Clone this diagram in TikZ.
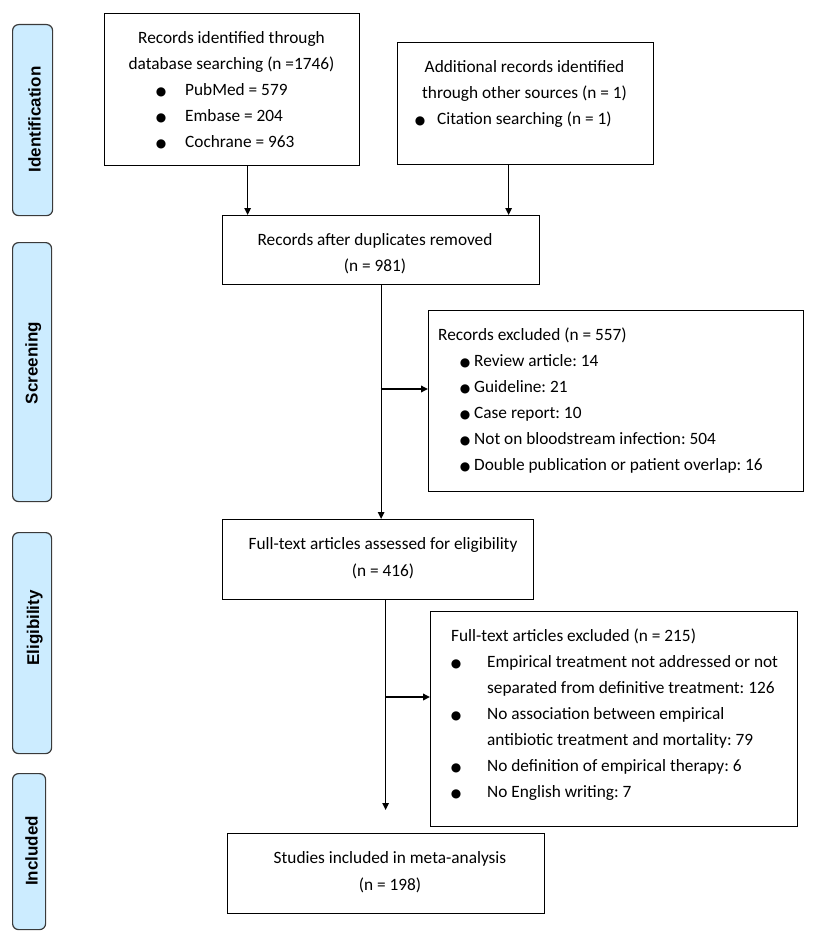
\documentclass[tikz,border=0pt]{standalone}
\usepackage{fontspec}
\setmainfont{Carlito}
\newfontfamily\labfont{Liberation Sans}
\newfontfamily\symfont{DejaVu Sans}
\usetikzlibrary{arrows.meta}
\frenchspacing
\definecolor{phasefill}{HTML}{CCECFF}
\definecolor{phasedraw}{HTML}{3A3A3A}
\newcommand\bul[1]{\makebox[0pt]{\symfont\fontsize{12}{12}\selectfont ●}\hspace{#1}}
\tikzset{
  flowbox/.style={draw=black, line width=1.3pt, rectangle, inner sep=0pt, anchor=north west},
  phase/.style={draw=phasedraw, fill=phasefill, line width=1.2pt, rounded corners=6pt, rectangle, inner sep=0pt, anchor=north west},
  phaselabel/.style={font=\labfont\bfseries\fontsize{17}{20}\selectfont, rotate=90, anchor=base, inner sep=0pt},
  txt/.style={font=\fontsize{17.3}{26}\selectfont, inner sep=0pt},
  txtw/.style={font=\fontsize{17.3}{27}\selectfont, inner sep=0pt},
  arr/.style={line width=1.2pt, -{Triangle[length=7pt,width=6.5pt]}},
  branch/.style={line width=1.8pt, -{Triangle[length=7pt,width=6.5pt]}},
}
\begin{document}
\begin{tikzpicture}[x=1pt,y=-1pt]
\useasboundingbox (0,0) rectangle (829,944);
% phase bars
\node[phase, minimum width=40pt, minimum height=191pt] (p1) at (12,24) {};
\node[phase, minimum width=39pt, minimum height=259pt] (p2) at (12,242) {};
\node[phase, minimum width=39pt, minimum height=221pt] (p3) at (12,532) {};
\node[phase, minimum width=33pt, minimum height=156pt] (p4) at (12,773) {};
\node[phaselabel] (p1t) at (40.5,119.5) {Identification};
\node[phaselabel] (p2t) at (37.5,363) {Screening};
\node[phaselabel] (p3t) at (39,628) {Eligibility};
\node[phaselabel] (p4t) at (37.5,851) {Included};
% boxes
\node[flowbox, minimum width=255pt, minimum height=152pt] (b1) at (104,13) {};
\node[flowbox, minimum width=256pt, minimum height=122pt] (b2) at (397,42) {};
\node[flowbox, minimum width=317pt, minimum height=69pt] (b3) at (222,215) {};
\node[flowbox, minimum width=375pt, minimum height=181pt] (b4) at (428,310) {};
\node[flowbox, minimum width=311pt, minimum height=80pt] (b5) at (222,519) {};
\node[flowbox, minimum width=367pt, minimum height=215pt] (b6) at (430,611) {};
\node[flowbox, minimum width=317pt, minimum height=80pt] (b7) at (227,833) {};
% texts
\node[txt, anchor=base] (b1h) at (231.5,43.5) {\begin{tabular}[t]{@{}c@{}}Records identified through\\database searching (n =1746)\end{tabular}};
\node[txt, anchor=base west] (b1l) at (161,95.5) {\begin{tabular}[t]{@{}l@{}}\bul{24pt}PubMed = 579\\\bul{24pt}Embase = 204\\\bul{24pt}Cochrane = 963\end{tabular}};
\node[txt, anchor=base] (b2h) at (524.5,72.5) {\begin{tabular}[t]{@{}c@{}}Additional records identified\\through other sources (n = 1)\end{tabular}};
\node[txt, anchor=base west] (b2l) at (420,124.5) {\begin{tabular}[t]{@{}l@{}}\bul{17pt}Citation searching (n = 1)\end{tabular}};
\node[txt, anchor=base] (b3t) at (375,245.5) {\begin{tabular}[t]{@{}c@{}}Records after duplicates removed\\(n = 981)\end{tabular}};
\node[txt, anchor=base west] (b4h) at (438,340.5) {Records excluded (n = 557)};
\node[txt, anchor=base west] (b4l) at (465,366.5) {\begin{tabular}[t]{@{}l@{}}\bul{9pt}Review article: 14\\\bul{9pt}Guideline: 21\\\bul{9pt}Case report: 10\\\bul{9pt}Not on bloodstream infection: 504\\\bul{9pt}Double publication or patient overlap: 16\end{tabular}};
\node[txtw, anchor=base] (b5t) at (383,549.5) {\begin{tabular}[t]{@{}c@{}}Full-text articles assessed for eligibility\\(n = 416)\end{tabular}};
\node[txt, anchor=base west] (b6h) at (451,641.5) {Full-text articles excluded (n = 215)};
\node[txt, anchor=base west] (b6l) at (456,667.5) {\begin{tabular}[t]{@{}l@{}}\bul{31pt}Empirical treatment not addressed or not\\\hspace{31pt}separated from definitive treatment: 126\\\bul{31pt}No association between empirical\\\hspace{31pt}antibiotic treatment and mortality: 79\\\bul{31pt}No definition of empirical therapy: 6\\\bul{31pt}No English writing: 7\end{tabular}};
\node[txtw, anchor=base] (b7t) at (390,863.5) {\begin{tabular}[t]{@{}c@{}}Studies included in meta-analysis\\(n = 198)\end{tabular}};
% connectors
\coordinate (a1) at ([xshift=15.5pt]b1.south);
\coordinate (a2) at ([xshift=-17pt]b2.south);
\coordinate (a5) at ([xshift=7.5pt]b5.south);
\draw[arr] (a1) -- (a1 |- b3.north);
\draw[arr] (a2) -- (a2 |- b3.north);
\draw[arr] (b3.south) -- (b3.south |- b5.north);
\draw[arr, shorten >=23pt] (a5) -- (a5 |- b7.north);
\coordinate (j1) at (380.5,389);
\coordinate (j2) at (385,697);
\draw[branch] (j1) -- (j1 -| b4.west);
\draw[branch] (j2) -- (j2 -| b6.west);
\end{tikzpicture}
\end{document}
